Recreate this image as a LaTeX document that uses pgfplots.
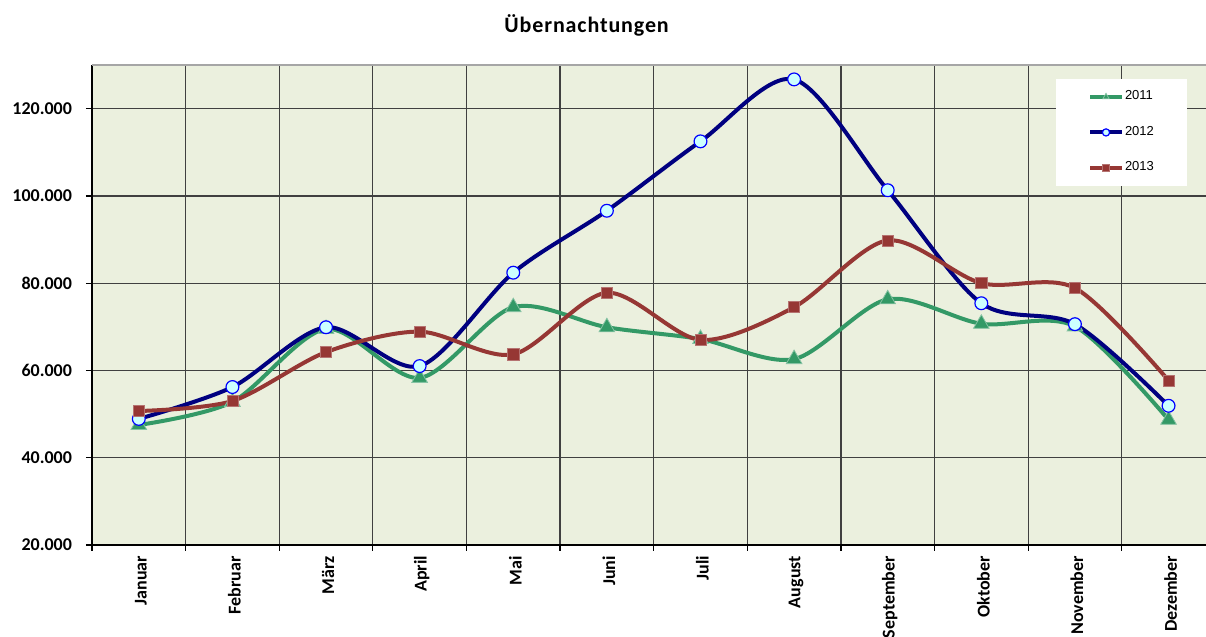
\documentclass[border=0pt]{standalone}
\usepackage{fontspec}
\setmainfont{Carlito}
\newfontfamily\arialfont{Liberation Sans}
\usepackage{pgfplots}
\pgfplotsset{compat=1.18}

\definecolor{bgcol}{RGB}{235,240,222}
\definecolor{c2011}{RGB}{51,153,102}
\definecolor{c2012}{RGB}{0,0,128}
\definecolor{c2013}{RGB}{150,55,52}
\definecolor{cfill}{RGB}{204,255,255}

\begin{document}
\begin{tikzpicture}
\begin{axis}[
  name=ax,
  scale only axis,
  width=557pt, height=240pt,
  xmin=-0.5, xmax=11.4,
  ymin=20000, ymax=130000,
  axis background/.style={fill=bgcol},
  axis x line*=bottom, axis y line*=left,
  axis line style={black, line width=0.6pt},
  xtick={-0.5,0.5,...,10.5}, xticklabels={},
  extra x ticks={0,...,11},
  extra x tick labels={Januar,Februar,März,April,Mai,Juni,Juli,August,September,Oktober,November,Dezember},
  extra x tick style={grid=none, major tick length=0pt,
    tick label style={rotate=90, anchor=east, xshift=-2pt, yshift=-1pt, font=\bfseries\fontsize{9}{10}\selectfont}},
  ytick={20000,40000,...,120000},
  scaled y ticks=false,
  yticklabel style={font=\bfseries\fontsize{9}{10}\selectfont, xshift=-3.5pt,
    /pgf/number format/.cd, fixed, 1000 sep={.}, assume math mode=true},
  tick align=outside, major tick length=3pt,
  tick style={black, line width=0.6pt},
  xmajorgrids, ymajorgrids,
  major grid style={black!75, line width=0.6pt},
  title={Übernachtungen},
  title style={at={(0.444,1)}, anchor=base, yshift=10pt,
    font=\bfseries\fontsize{11}{13}\selectfont\addfontfeature{LetterSpace=4}},
  legend style={at={(0.865,0.971)}, anchor=north west, draw=none, fill=white,
    font=\arialfont\fontsize{6.5}{7.5}\selectfont, inner xsep=16pt, inner ysep=3.8pt,
    row sep=7.7pt, nodes={inner xsep=0.5pt}},
  legend cell align=left,
  legend image code/.code={\draw[mark repeat=2,mark phase=2,#1,mark size=1.8pt]
    plot coordinates {(0pt,0pt) (8pt,0pt) (16pt,0pt)};},
]
\addplot[c2011, line width=2pt, smooth, tension=0.5, mark=triangle*, mark size=4.5pt,
  mark options={fill=c2011, draw=c2011!60!white, line width=0.4pt}] coordinates {
  (0,47500) (1,52800) (2,69500) (3,58300) (4,74500) (5,69900)
  (6,67200) (7,62600) (8,76300) (9,70700) (10,70100) (11,48700)
};
\addlegendentry{2011}
\addplot[c2012, line width=2pt, smooth, tension=0.5, mark=*, mark size=3.2pt,
  mark options={fill=cfill, draw=blue, line width=0.6pt}] coordinates {
  (0,48900) (1,56200) (2,69900) (3,61000) (4,82400) (5,96600)
  (6,112500) (7,126700) (8,101300) (9,75400) (10,70600) (11,51900)
};
\addlegendentry{2012}
\addplot[c2013, line width=2pt, smooth, tension=0.5, mark=square*, mark size=2.8pt,
  mark options={fill=c2013, draw=c2013!70!white, line width=0.3pt}] coordinates {
  (0,50700) (1,53000) (2,64200) (3,68900) (4,63700) (5,77800)
  (6,67000) (7,74500) (8,89800) (9,80000) (10,78900) (11,57700)
};
\addlegendentry{2013}
\end{axis}
\draw[gray!70, line width=0.8pt] (ax.north west) -- (ax.north east);
\pgfresetboundingbox
\useasboundingbox ([xshift=-46pt,yshift=-46pt]ax.south west) rectangle ([yshift=32.5pt]ax.north east);
\end{tikzpicture}
\end{document}
